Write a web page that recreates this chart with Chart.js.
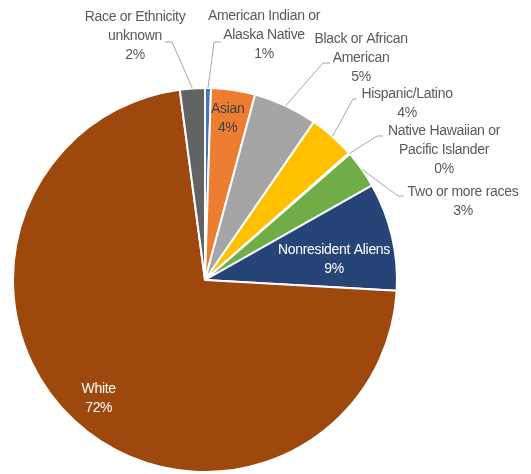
<!DOCTYPE html>
<html>
<head>
<meta charset="utf-8">
<script src="https://cdn.jsdelivr.net/npm/chart.js@4.4.1/dist/chart.umd.min.js"></script>
<style>
  html, body { margin: 0; padding: 0; background: #fff; }
  #wrap { width: 531px; height: 474px; position: relative; }
</style>
</head>
<body>
<div id="wrap"><canvas id="chart"></canvas></div>
<script>
// categories, in drawing order (clockwise from 12 o'clock)
const categories = [
    ['American Indian or', 'Alaska Native'],
    ['Asian'],
    ['Black or African', 'American'],
    ['Hispanic/Latino'],
    ['Native Hawaiian or', 'Pacific Islander'],
    ['Two or more races'],
    ['Nonresident Aliens'],
    ['White'],
    ['Race or Ethnicity', 'unknown']
];
// share of students, percent
const shares = [0.5, 3.7, 5.4, 3.9, 0.1, 3.2, 9.1, 72.0, 2.1];

const colors = ['#4472C4', '#ED7D31', '#A5A5A5', '#FFC000', '#5B9BD5', '#70AD47', '#264478', '#9E480E', '#636363'];

// label layout, offsets from the pie centre: [textX, firstLineY, color, leader]
// leader: [elbowX, elbowY, horizontalEndX] or null for labels inside the slice
const labelLayout = [
    [59, -264, '#595959', [9, -238, 16]],
    [22.7, -171, '#404040', null],
    [156, -241, '#595959', [118, -217, 125]],
    [202, -186, '#595959', [148, -181, 152]],
    [239, -149, '#595959', [172, -144, 178]],
    [258, -88, '#595959', [193, -84, 199]],
    [129, -30, '#ffffff', null],
    [-106.3, 109.3, '#ffffff', null],
    [-70, -263, '#595959', [-33, -238, -40]]
];

const total = shares.reduce((a, b) => a + b, 0);

const pieLabels = {
    id: 'pieLabels',
    afterDraw(chart) {
        const ctx = chart.ctx;
        const arcs = chart.getDatasetMeta(0).data;
        ctx.save();
        ctx.font = '14px "Liberation Sans", Arial, sans-serif';
        ctx.letterSpacing = '-0.3px';
        ctx.textAlign = 'center';
        ctx.textBaseline = 'middle';
        arcs.forEach((arc, i) => {
            const cx = arc.x, cy = arc.y;
            const [tx, ty, color, leader] = labelLayout[i];
            if (leader) {
                const mid = (arc.startAngle + arc.endAngle) / 2;
                const r = arc.outerRadius;
                ctx.strokeStyle = '#A6A6A6';
                ctx.lineWidth = 1;
                ctx.beginPath();
                ctx.moveTo(cx + Math.cos(mid) * r, cy + Math.sin(mid) * r);
                ctx.lineTo(cx + leader[0], cy + leader[1]);
                ctx.lineTo(cx + leader[2], cy + leader[1]);
                ctx.stroke();
            }
            const pct = Math.round(shares[i] / total * 100 + 1e-9) + '%';
            const lines = categories[i].concat([pct]);
            ctx.fillStyle = color;
            lines.forEach((line, k) => {
                ctx.fillText(line, cx + tx, cy + ty + k * 19.3);
            });
        });
        ctx.restore();
    }
};

new Chart(document.getElementById('chart'), {
    type: 'pie',
    data: {
        labels: categories.map(c => c.join(' ')),
        datasets: [{
            data: shares,
            backgroundColor: colors,
            borderColor: '#ffffff',
            borderWidth: 2
        }]
    },
    options: {
        responsive: true,
        maintainAspectRatio: false,
        animation: false,
        events: [],
        layout: {
            padding: { left: 12, right: 133, top: 87, bottom: 1 }
        },
        plugins: {
            legend: { display: false },
            tooltip: { enabled: false }
        }
    },
    plugins: [pieLabels]
});
</script>
</body>
</html>
